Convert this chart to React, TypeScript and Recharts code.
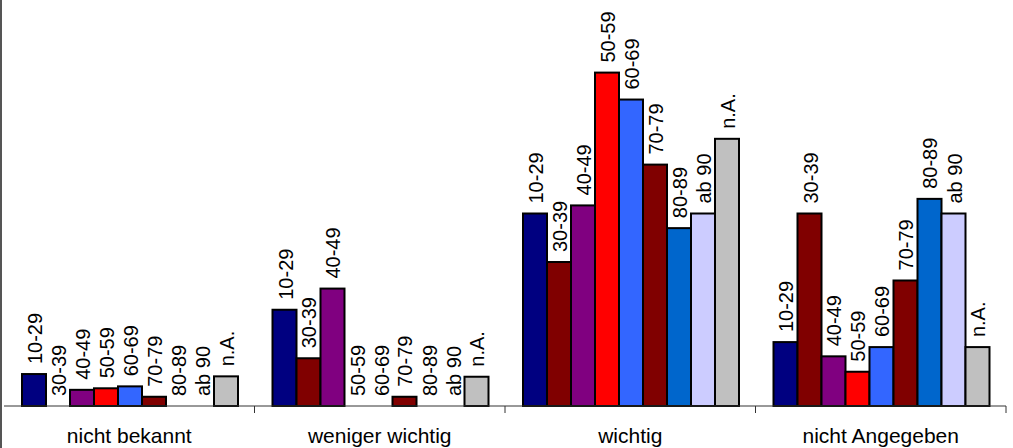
import React from "react";
import { BarChart, Bar, XAxis, YAxis } from "recharts";

const categories = ["nicht bekannt", "weniger wichtig", "wichtig", "nicht Angegeben"];
const seriesNames = ["10-29", "30-39", "40-49", "50-59", "60-69", "70-79", "80-89", "ab 90", "n.A."];
const seriesColors = ["#000080", "#800000", "#800080", "#FF0000", "#3366FF", "#800000", "#0066CC", "#CCCCFF", "#C0C0C0"];

const v10_29 = [8.3, 25.0, 50.0, 16.6];
const v30_39 = [0, 12.4, 37.4, 50.0];
const v40_49 = [4.2, 30.5, 52.1, 12.9];
const v50_59 = [4.6, 0, 86.6, 8.9];
const v60_69 = [5.1, 0, 79.6, 15.3];
const v70_79 = [2.4, 2.4, 62.7, 32.6];
const v80_89 = [0, 0, 46.2, 53.8];
const vAb90 = [0, 0, 50.0, 50.0];
const vNA = [7.7, 7.6, 69.4, 15.3];

const seriesValues = [v10_29, v30_39, v40_49, v50_59, v60_69, v70_79, v80_89, vAb90, vNA];

const data = categories.map((c, i) => {
  const row: Record<string, any> = { name: c };
  seriesNames.forEach((s, j) => {
    row[s] = seriesValues[j][i];
  });
  return row;
});

const FONT = "'Liberation Sans', Arial, sans-serif";

const makeShape = (label: string, color: string) => (props: any) => {
  const x = Number(props.x);
  const y = Number(props.y);
  const w = Number(props.width);
  const h = Number(props.height);
  const cx = x + w / 2 + 1;
  const by = y - 10;
  return (
    <g>
      {h > 0 && (
        <rect x={x} y={y} width={w} height={h} fill={color} stroke="#000" strokeWidth={2} />
      )}
      <text
        x={cx}
        y={by}
        transform={`rotate(-90, ${cx}, ${by})`}
        textAnchor="start"
        dominantBaseline="central"
        fontFamily={FONT}
        fontSize={20}
        fill="#000"
      >
        {label}
      </text>
    </g>
  );
};

const CategoryTick = (props: any) => {
  const { x, payload } = props;
  const off = payload && payload.offset ? payload.offset : 0;
  const axisY = 406;
  return (
    <g>
      <line x1={x + off} y1={axisY} x2={x + off} y2={axisY + 7} stroke="#333" strokeWidth={1} />
      <text x={x} y={443} textAnchor="middle" fontFamily={FONT} fontSize={21} fill="#000">
        {payload.value}
      </text>
    </g>
  );
};

export default function App() {
  return (
    <div
      style={{
        position: "absolute",
        left: 0,
        top: 0,
        width: 1013,
        height: 448,
        background: "#fff",
      }}
    >
      <div
        style={{
          position: "absolute",
          left: 0,
          top: 0,
          width: 2,
          height: 448,
          background: "#555",
        }}
      />
      <BarChart
        width={1013}
        height={448}
        data={data}
        margin={{ top: 21, right: 7, bottom: 0, left: 4 }}
        barCategoryGap={18}
        barGap={0}
      >
        <XAxis
          dataKey="name"
          height={42}
          tickLine={false}
          axisLine={{ stroke: "#333", strokeWidth: 1 }}
          tick={<CategoryTick />}
          interval={0}
        />
        <YAxis hide domain={[0, 100]} />
        {seriesNames.map((s, j) => (
          <Bar
            key={s}
            dataKey={s}
            fill={seriesColors[j]}
            stroke="#000"
            strokeWidth={2}
            isAnimationActive={false}
            shape={makeShape(s, seriesColors[j])}
          />
        ))}
      </BarChart>
    </div>
  );
}
